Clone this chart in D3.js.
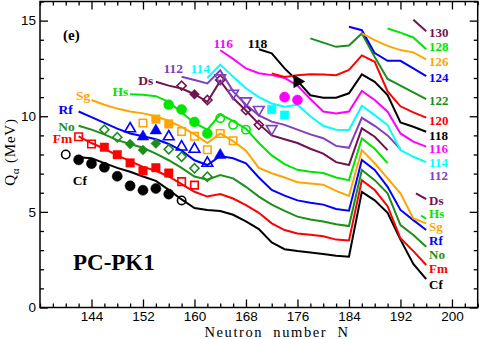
<!DOCTYPE html>
<html>
  <head>
    <meta charset="utf-8">
    <title>Q-alpha systematics, PC-PK1</title>
    <script src="https://d3js.org/d3.v7.min.js"></script>
    <style>
      body { margin: 0; background: #fff; }
      svg { display: block; font-family: "Liberation Serif", "Times New Roman", serif; }
      .axis text { font-size: 13.5px; fill: #000; }
      .axis line { stroke: #000; stroke-width: 1.3; }
      .lbl { font-weight: bold; font-size: 13.5px; }
    </style>
  </head>
  <body>
    <svg id="chart" width="480" height="339"></svg>
    <script>
      // ---- data: Q_alpha (MeV) vs neutron number N ----
      // theoretical isotopic chains
      const cfLine = [[142,7.85],[144,7.8],[146,7.55],[148,7.3],[150,7.1],[152,6.85],[154,6.62],[156,6.15],[158,5.65],[160,5.2],[162,5.1],[164,5.05],[166,4.85],[168,4.5],[170,4.1],[172,3.4],[174,3.05],[176,2.95],[178,2.87],[180,2.8],[182,2.7],[184,2.66],[186,6.05],[188,5.6],[190,4.95],[192,3.55],[194,2.28],[196,1.48]];
      const fmLine = [[142,8.95],[144,8.6],[146,8.3],[148,7.95],[150,7.65],[152,7.35],[154,7.15],[156,6.85],[158,6.45],[160,6.05],[162,5.8],[164,5.93],[166,5.7],[168,5.35],[170,4.95],[172,4.4],[174,4.05],[176,3.87],[178,3.8],[180,3.72],[182,3.55],[184,3.5],[186,6.65],[188,6.14],[190,5.3],[192,3.62],[194,2.95],[196,2.22]];
      const noLine = [[142,9.5],[144,9.3],[146,9.05],[148,8.75],[150,8.55],[152,8.35],[154,8.05],[156,7.7],[158,7.3],[160,6.85],[162,6.68],[164,6.93],[166,6.75],[168,6.31],[170,5.8],[172,5.38],[174,5.05],[176,4.75],[178,4.6],[180,4.5],[182,4.35],[184,4.26],[186,7.19],[188,6.66],[190,5.97],[192,4.31],[194,3.79],[196,3.18]];
      const rfLine = [[142,10.25],[144,9.95],[146,9.65],[148,9.35],[150,9.1],[152,8.95],[154,8.8],[156,8.55],[158,8.2],[160,7.7],[162,7.45],[164,7.92],[166,7.8],[168,7.54],[170,6.8],[172,6.15],[174,5.85],[176,5.6],[178,5.48],[180,5.38],[182,5.15],[184,5.06],[186,7.71],[188,7.19],[190,6.31],[192,5.1],[194,4.57],[196,4.05]];
      const sgLine = [[144,10.85],[146,10.6],[148,10.4],[150,10.25],[152,10.15],[154,10.0],[156,9.75],[158,9.45],[160,9.05],[162,8.6],[164,9.1],[166,8.7],[168,8.2],[170,7.3],[172,7.02],[174,6.8],[176,6.55],[178,6.49],[180,6.42],[182,6.1],[184,5.83],[186,8.23],[188,7.54],[190,6.75],[192,5.97],[194,4.66],[196,4.4]];
      const hsLine = [[150,11.15],[152,11.12],[154,11.05],[156,10.75],[158,10.2],[160,9.65],[162,9.3],[164,10.1],[166,9.75],[168,9.35],[170,8.6],[172,7.95],[174,7.5],[176,7.2],[178,7.1],[180,7.03],[182,6.8],[184,6.66],[186,8.84],[188,8.3],[190,7.55]];
      const hsTail = [[195.2,4.8],[196,4.64]];
      const dsLine = [[154,11.8],[156,11.6],[158,11.45],[160,11.15],[162,10.75],[164,11.85],[166,10.95],[168,10.3],[170,9.6],[172,9.0],[174,8.8],[176,8.6],[178,8.3],[180,8.05],[182,7.6],[184,7.45],[186,9.37],[188,8.93],[190,8.23]];
      const dsTail = [[194.4,5.97],[196,5.67]];
      const cnLine = [[158,12.07],[160,11.9],[162,11.72],[164,12.4],[166,11.3],[168,10.6],[170,10.05],[172,9.72],[174,9.55],[176,9.3],[178,9.05],[180,8.85],[182,8.45],[184,8.35],[186,9.92],[188,9.5],[190,9.0],[192,8.28]];
      const flLine = [[162,12.0],[164,12.7],[166,12.07],[168,11.46],[170,11.0],[172,10.67],[174,10.5],[176,10.6],[178,10.0],[180,9.5],[182,9.3],[184,9.28],[186,10.55],[188,10.06],[190,9.54],[192,8.23],[194,7.88],[196,7.6]];
      const lvLine = [[164,13.45],[166,13.0],[168,12.5],[170,12.25],[172,12.15],[174,12.0],[176,11.6],[178,10.9],[180,10.25],[182,10.15],[184,10.25],[186,11.32],[188,10.85],[190,10.24],[192,9.1],[194,8.67],[196,8.41]];
      const ogLine = [[170,13.5],[172,13.29],[174,12.5],[176,11.85],[178,11.1],[180,10.97],[182,10.97],[184,11.2],[186,12.19],[188,11.8],[190,11.11],[192,9.68],[194,9.45],[196,9.19]];
      const z120Line = [[172,12.24],[174,12.05],[176,12.15],[178,12.2],[180,12.18],[182,12.15],[184,12.42],[186,13.18],[188,12.85],[190,11.3],[192,10.52],[194,10.2],[196,9.93]];
      const z122Line = [[178,14.07],[180,13.85],[182,13.63],[184,13.7],[186,14.33],[188,13.1],[190,11.95],[192,11.6],[194,11.25],[196,10.9]];
      const z124Line = [[184,14.68],[186,14.5],[188,13.3],[190,12.9],[192,12.9],[194,12.5],[196,12.1]];
      const z126Line = [[186,14.33],[188,13.98],[190,13.68],[192,13.46],[194,13.34],[196,12.97]];
      const z128Line = [[190,14.59],[192,14.37],[194,14.12],[196,13.5]];
      const z130Line = [[194,15.05],[196,14.45]];

      // experimental points (filled) and other values (open)
      const cfFilled = [[142,7.72],[144,7.52],[146,7.33],[148,6.86],[150,6.36],[152,6.13],[154,6.22],[156,5.93]];
      const cfOpen = [[140,8.0],[158,5.6]];
      const fmFilled = [[146,8.38],[148,7.99],[150,7.56],[152,7.15],[154,7.31],[156,7.03]];
      const fmOpen = [[142,8.93],[144,8.55],[158,6.58],[160,6.4]];
      const noFilled = [[150,8.55],[152,8.23],[154,8.58]];
      const noOpen = [[146,9.3],[148,8.9],[156,8.27],[158,7.88],[160,7.28],[162,6.84]];
      const rfFilled = [[152,8.93],[154,9.25],[164,7.97]];
      const rfOpen = [[150,9.35],[156,8.93],[158,8.4],[160,8.28],[162,7.55]];
      const sgFilled = [[154,9.85],[156,9.6]];
      const sgOpen = [[152,9.65],[158,9.2],[160,8.95],[162,8.25],[164,9.1],[166,8.72]];
      const hsFilled = [[156,10.6],[158,10.35],[160,9.7],[162,9.1]];
      const hsOpen = [[164,9.9],[166,9.55],[168,9.3]];
      const dsFilled = [[160,11.15]];
      const dsOpen = [[158,11.6],[162,10.85],[164,11.9],[168,10.32],[170,9.55]];
      const cnOpen = [[164,12.0],[166,11.2],[168,10.8],[170,10.35],[172,9.35]];
      const flFilled = [[172,10.35],[174,10.06]];
      const lvFilled = [[174,11.0],[176,10.85]];
      const ogFilled = [[176,11.82]];

      // labels: [text, N, Q]
      const leftLabels = [["Cf",143.3,6.67],["Fm",141,8.86],["No",141.4,9.49],["Rf",141.1,10.38],["Sg",143.8,11.11],["Hs",149.7,11.32],["Ds",153.6,11.9],["112",158.2,12.52],["114",162.4,12.52],["116",166,13.83],["118",171.3,13.83]];
      const rightLabels = [["130",14.39],["128",13.64],["126",12.86],["124",12.02],["122",10.85],["120",9.77],["118",9.02],["116",8.33],["114",7.58],["112",6.88],["Ds",5.62],["Hs",4.93],["Sg",4.24],["Rf",3.53],["No",2.75],["Fm",2.05],["Cf",1.19]];
      const xTicks = [144, 152, 160, 168, 176, 184, 192, 200];
      const yTicks = [0, 5, 10, 15];

      // ---- colours ----
      const colour = {
        Cf: "#000000", Fm: "#ff0000", No: "#1a8f1a", Rf: "#0000ff", Sg: "#ffa500",
        Hs: "#00e600", Ds: "#70134f", "112": "#7f3fbf", "114": "#00ffff", "116": "#ff00ff",
        "118": "#000000", "120": "#ff0000", "122": "#1a8f1a", "124": "#0000ff",
        "126": "#ffa500", "128": "#00e600", "130": "#70134f"
      };
      const chains = [
        ["Cf", cfLine], ["Fm", fmLine], ["No", noLine], ["Rf", rfLine], ["Sg", sgLine],
        ["Hs", hsLine], ["Hs", hsTail], ["Ds", dsLine], ["Ds", dsTail], ["112", cnLine],
        ["114", flLine], ["116", lvLine], ["118", ogLine], ["120", z120Line], ["122", z122Line],
        ["124", z124Line], ["126", z126Line], ["128", z128Line], ["130", z130Line]
      ];
      // [points, shape, filled, element]
      const markers = [
        [cfFilled, "circle", true, "Cf"], [cfOpen, "circle", false, "Cf"],
        [fmFilled, "square", true, "Fm"], [fmOpen, "square", false, "Fm"],
        [noFilled, "diamond", true, "No"], [noOpen, "diamond", false, "No"],
        [rfFilled, "up", true, "Rf"], [rfOpen, "up", false, "Rf"],
        [sgFilled, "square", true, "Sg"], [sgOpen, "square", false, "Sg"],
        [hsFilled, "circle", true, "Hs"], [hsOpen, "circle", false, "Hs"],
        [dsFilled, "diamond", true, "Ds"], [dsOpen, "diamond", false, "Ds"],
        [cnOpen, "down", false, "112"], [flFilled, "square", true, "114"],
        [lvFilled, "circle", true, "116"], [ogFilled, "right", true, "118"]
      ];

      // ---- layout ----
      chart = d3.select("#chart");
      x = d3.scaleLinear().domain([136, 204]).range([40, 477.7]);
      y = d3.scaleLinear().domain([0, 16]).range([307.5, 1.5]);

      xMinor = d3.range(136, 205, 2).filter(function(d) { return xTicks.indexOf(d) < 0; });
      yMinor = d3.range(0, 17, 1).filter(function(d) { return yTicks.indexOf(d) < 0; });

      function addAxis(axis, tx, ty, values, size, labels, pad) {
        let g = chart.append("g")
          .classed("axis", true)
          .attr("transform", "translate(" + tx + "," + ty + ")")
          .call(axis.tickValues(values).tickSize(-size).tickPadding(pad || 3)
            .tickFormat(labels ? d3.format("d") : ""));
        g.select(".domain").remove();
      }
      // major and minor ticks on all four sides, pointing inward
      addAxis(d3.axisBottom(x), 0, y(0), xTicks, 8, true, 4);
      addAxis(d3.axisBottom(x), 0, y(0), xMinor, 4, false);
      addAxis(d3.axisTop(x), 0, y(16), xTicks, 8, false);
      addAxis(d3.axisTop(x), 0, y(16), xMinor, 4, false);
      addAxis(d3.axisLeft(y), x(136), 0, yTicks, 8, true, 4);
      addAxis(d3.axisLeft(y), x(136), 0, yMinor, 4, false);
      addAxis(d3.axisRight(y), x(204), 0, yTicks, 8, false);
      addAxis(d3.axisRight(y), x(204), 0, yMinor, 4, false);

      chart.append("rect")
        .attr("x", x(136)).attr("y", y(16))
        .attr("width", x(204) - x(136)).attr("height", y(0) - y(16))
        .attr("fill", "none").attr("stroke", "#000").attr("stroke-width", 1.5);

      // axis titles
      chart.append("text")
        .attr("x", 277).attr("y", 337)
        .attr("text-anchor", "middle")
        .style("font-size", "14.5px").style("letter-spacing", "1.6px").style("word-spacing", "5px")
        .text("Neutron number N");
      yTitle = chart.append("text")
        .attr("transform", "translate(15,152) rotate(-90)")
        .attr("text-anchor", "middle")
        .style("font-size", "15px").style("letter-spacing", "0.8px");
      yTitle.append("tspan").text("Q");
      yTitle.append("tspan").attr("dy", 4).style("font-size", "11px").text("\u03b1");
      yTitle.append("tspan").attr("dy", -4).text(" (MeV)");

      // chains
      line = d3.line()
        .x(function(d) { return x(d[0]); })
        .y(function(d) { return y(d[1]); });
      chart.append("g").selectAll("path")
          .data(chains)
        .enter().append("path")
          .attr("d", function(d) { return line(d[1]); })
          .attr("fill", "none")
          .attr("stroke", function(d) { return colour[d[0]]; })
          .attr("stroke-width", 2)
          .attr("stroke-linejoin", "miter");

      // markers
      shapes = {
        circle: [d3.symbolCircle, 0, 80, 55],
        square: [d3.symbolSquare, 0, 72, 56],
        diamond: [d3.symbolSquare, 45, 50, 42],
        up: [d3.symbolTriangle, 0, 58, 50],
        down: [d3.symbolTriangle, 180, 58, 50],
        right: [d3.symbolTriangle, 90, 70, 70]
      };
      markerGroup = chart.append("g");
      markers.forEach(function(m) {
        let s = shapes[m[1]];
        markerGroup.append("g").selectAll("path")
            .data(m[0])
          .enter().append("path")
            .attr("transform", function(d) { return "translate(" + x(d[0]) + "," + y(d[1]) + ") rotate(" + s[1] + ")"; })
            .attr("d", d3.symbol().type(s[0]).size(m[2] ? s[2] : s[3]))
            .attr("fill", m[2] ? colour[m[3]] : "none")
            .attr("stroke", colour[m[3]])
            .attr("stroke-width", m[2] ? 0.5 : 1.6);
      });

      // chain labels
      chart.append("g").selectAll("text")
          .data(leftLabels)
        .enter().append("text")
          .classed("lbl", true)
          .attr("x", function(d) { return x(d[1]); })
          .attr("y", function(d) { return y(d[2]); })
          .attr("dy", "0.35em")
          .attr("text-anchor", "end")
          .attr("fill", function(d) { return colour[d[0]]; })
          .text(function(d) { return d[0]; });
      chart.append("g").selectAll("text")
          .data(rightLabels)
        .enter().append("text")
          .classed("lbl", true)
          .style("font-size", "13px")
          .attr("x", x(196.45))
          .attr("y", function(d) { return y(d[1]); })
          .attr("dy", "0.35em")
          .attr("fill", function(d) { return colour[d[0]]; })
          .text(function(d) { return d[0]; });

      // panel tags
      chart.append("text")
        .attr("x", 63).attr("y", 40)
        .style("font-weight", "bold").style("font-size", "15px")
        .text("(e)");
      chart.append("text")
        .attr("x", 73).attr("y", 270)
        .style("font-weight", "bold").style("font-size", "23px")
        .text("PC-PK1");
    </script>
  </body>
</html>
